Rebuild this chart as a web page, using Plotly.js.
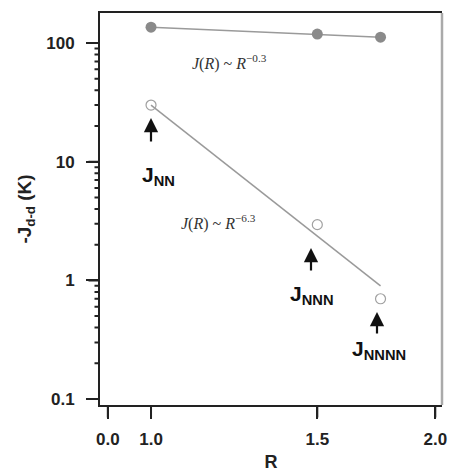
<!DOCTYPE html>
<html>
<head>
<meta charset="utf-8">
<script src="https://cdn.plot.ly/plotly-3.0.1.min.js"></script>
<style>html,body{margin:0;padding:0;background:#fff;}#chart{width:450px;height:472px;}</style>
</head>
<body>
<div id="chart"></div>
<script>
// Data
var R_values = [1.0, 1.5, 1.75];
var J_strong = [136, 119, 112];      // filled circles, J ~ R^-0.3
var J_weak = [30, 2.95, 0.70];       // open circles (J_NN, J_NNN, J_NNNN)
var fitWeakR = [1.0, 1.75];
var fitWeakJ = [30, 0.9];            // J ~ R^-6.3 fit line
var xTickVals = [0.9, 1.0, 1.5, 2.0];
var xTickText = ['0.0', '1.0', '1.5', '2.0'];
var yTickVals = [0.1, 1, 10, 100];
var yTickText = ['0.1', '1', '10', '100'];
var yMinorDecades = [0.1, 1, 10, 100];
var yMinorDigits = [2, 3, 4, 5, 6, 7, 8, 9];

var W = 450, H = 472, ML = 100, MR = 8, MT = 13, MB = 67;
var PW = W - ML - MR, PH = H - MT - MB;
function px(x) { return (x - ML) / PW; }
function py(y) { return (H - MB - y) / PH; }
var yRange = [-1.05, 2.253];
var xRange = [Math.log10(0.883), Math.log10(2.033)];
function yFrac(v) { return (Math.log10(v) - yRange[0]) / (yRange[1] - yRange[0]); }
function xFrac(v) { return (Math.log10(v) - xRange[0]) / (xRange[1] - xRange[0]); }

var traces = [
  {x: R_values, y: J_strong, mode: 'lines+markers', type: 'scatter',
   line: {color: '#9a9a9a', width: 1.5},
   marker: {color: '#8a8a8a', size: 11, symbol: 'circle'}, hoverinfo: 'none'},
  {x: fitWeakR, y: fitWeakJ, mode: 'lines', type: 'scatter',
   line: {color: '#9a9a9a', width: 1.5}, hoverinfo: 'none'},
  {x: R_values, y: J_weak, mode: 'markers', type: 'scatter',
   marker: {color: '#a0a0a0', size: 10, symbol: 'circle-open', line: {width: 1.2}}, hoverinfo: 'none'}
];

var SANS = 'Liberation Sans, Arial, sans-serif';
var bold = {family: SANS, size: 17, color: '#222', weight: 'bold'};
var serif = {family: 'Liberation Serif, Times New Roman, serif', size: 16, color: '#333'};
var bigFont = {family: SANS, size: 21, color: '#111', weight: 'bold'};
var TICK = '#222';

function arrow(x, yTip, yTail) {
  return {xref: 'paper', yref: 'paper', x: px(x), y: py(yTip), text: '',
    showarrow: true, arrowhead: 2, arrowsize: 1.3, arrowwidth: 2.2, arrowcolor: '#111',
    ax: 0, ay: yTail - yTip, standoff: 0, startstandoff: 0};
}
function label(x, y, txt, font) {
  return {xref: 'paper', yref: 'paper', x: px(x), y: py(y), text: txt, showarrow: false,
    xanchor: 'center', yanchor: 'middle', font: font};
}
// tick marks drawn as plain annotation arrows (no head) at axis-range positions
function tickMark(xp, yp, dx, dy) {
  return {xref: 'paper', yref: 'paper', x: xp, y: yp, text: '', font: {size: 1},
    showarrow: true, arrowhead: 0, arrowwidth: 2, arrowcolor: TICK,
    ax: dx, ay: dy, standoff: 0, startstandoff: 0, borderpad: 0};
}

var annotations = [
  label(229, 63, '<i>J</i>(<i>R</i>) ~ <i>R</i><sup>−0.3</sup>', serif),
  label(218, 222, '<i>J</i>(<i>R</i>) ~ <i>R</i><sup>−6.3</sup>', serif),
  arrow(151, 118, 143),
  arrow(311, 248, 272),
  arrow(377, 312, 335),
  label(158, 176, 'J<sub>NN</sub>', bigFont),
  label(312, 295, 'J<sub>NNN</sub>', bigFont),
  label(379, 350, 'J<sub>NNNN</sub>', bigFont)
];
yTickVals.forEach(function (v) { annotations.push(tickMark(0, yFrac(v), -12, 0)); });
yMinorDecades.forEach(function (d) {
  yMinorDigits.forEach(function (m) {
    var f = yFrac(d * m);
    if (f <= 1) annotations.push(tickMark(0, f, -6, 0));
  });
});
xTickVals.forEach(function (v) { annotations.push(tickMark(xFrac(v), 0, 0, 13)); });

var layout = {
  width: W, height: H,
  margin: {l: ML, r: MR, t: MT, b: MB},
  paper_bgcolor: '#fff', plot_bgcolor: '#fff',
  showlegend: false,
  xaxis: {type: 'log', range: xRange, autorange: false,
    tickmode: 'array', tickvals: xTickVals, ticktext: xTickText, ticks: 'outside', ticklen: 12, tickwidth: 2,
    tickcolor: TICK, showline: true, linewidth: 2, linecolor: '#222', mirror: true,
    showgrid: false, zeroline: false, tickfont: bold, ticklabelstandoff: 6,
    title: {text: 'R', font: {family: SANS, size: 18, color: '#222', weight: 'bold'}, standoff: 10}},
  yaxis: {type: 'log', range: yRange, autorange: false,
    tickmode: 'array', tickvals: yTickVals, ticktext: yTickText, ticks: 'outside', ticklen: 12, tickwidth: 2,
    tickcolor: TICK, showline: true, linewidth: 2, linecolor: '#222',
    showgrid: false, zeroline: false, tickfont: bold, ticklabelstandoff: 8,
    title: {text: '-J<sub>d-d</sub> (K)', font: {family: SANS, size: 19, color: '#222', weight: 'bold'}, standoff: 10}},
  shapes: [
    {type: 'line', xref: 'paper', yref: 'paper', x0: 1, x1: 1, y0: 0, y1: 1,
     line: {color: '#aaaaaa', width: 2.5}}
  ],
  annotations: annotations
};

Plotly.newPlot('chart', traces, layout, {staticPlot: true, displayModeBar: false});
</script>
</body>
</html>
